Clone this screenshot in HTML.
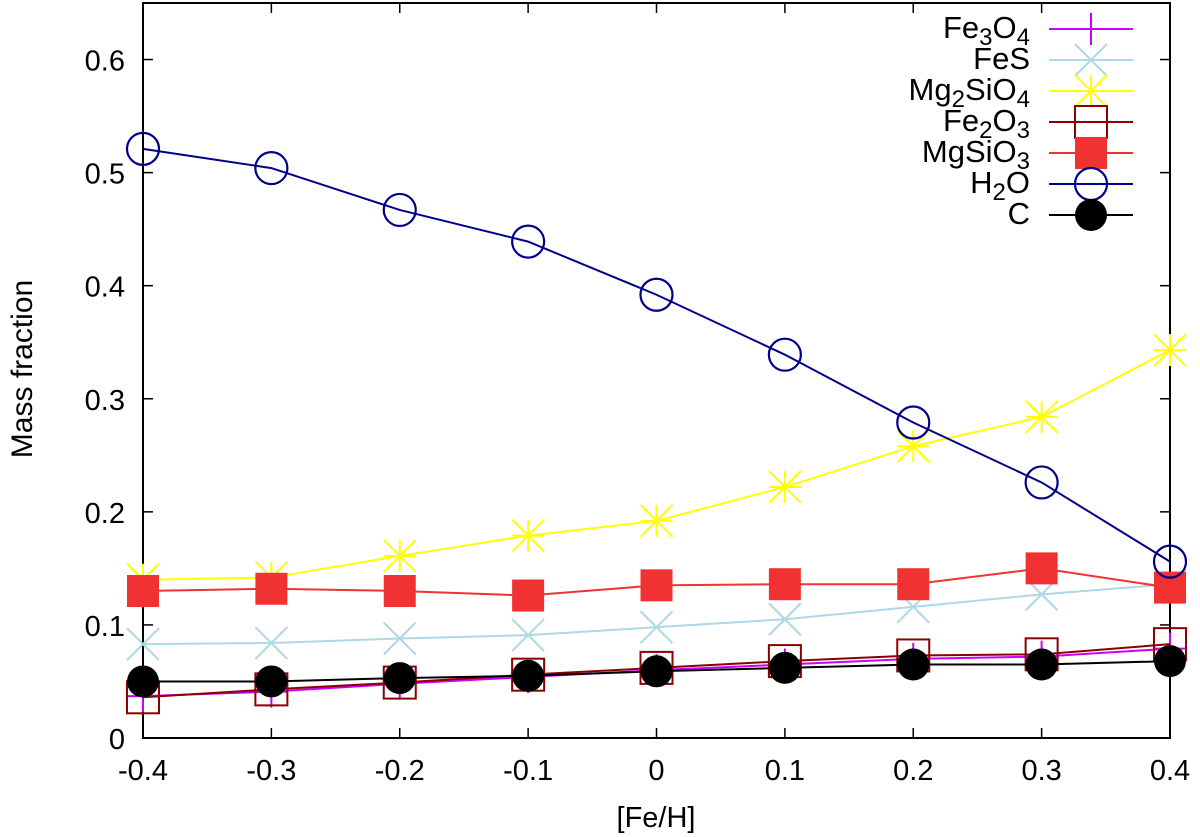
<!DOCTYPE html>
<html><head><meta charset="utf-8"><style>
html,body{margin:0;padding:0;background:#fff;}
svg{display:block;font-family:"Liberation Sans",Arial,sans-serif;}
</style></head><body>
<svg id="chart" width="1200" height="837">
<g id="grid"></g>
<g id="plot"></g>
<g id="legend"></g>
</svg>
<script>
const xValues = [-0.4,-0.3,-0.2,-0.1,0,0.1,0.2,0.3,0.4];
const xTicks = [-0.4,-0.3,-0.2,-0.1,0,0.1,0.2,0.3,0.4];
const xTickLabels = ["-0.4","-0.3","-0.2","-0.1","0","0.1","0.2","0.3","0.4"];
const yTicks = [0,0.1,0.2,0.3,0.4,0.5,0.6];
const yTickLabels = ["0","0.1","0.2","0.3","0.4","0.5","0.6"];
const fe3o4 = [0.037,0.041,0.048,0.054,0.060,0.065,0.070,0.072,0.079];
const fes = [0.083,0.084,0.088,0.091,0.098,0.105,0.116,0.127,0.136];
const mg2sio4 = [0.140,0.142,0.161,0.179,0.192,0.222,0.258,0.284,0.343];
const fe2o3 = [0.036,0.043,0.049,0.056,0.062,0.068,0.073,0.074,0.083];
const mgsio3 = [0.130,0.132,0.130,0.126,0.135,0.136,0.136,0.150,0.133];
const h2o = [0.521,0.504,0.467,0.439,0.392,0.339,0.279,0.226,0.156];
const carbon = [0.050,0.050,0.053,0.055,0.059,0.062,0.065,0.065,0.068];

const L=143,R=1170,T=3,B=738,XMIN=-0.4,XMAX=0.4,YMIN=0,YMAX=0.65;
const sx=v=>L+(v-XMIN)/(XMAX-XMIN)*(R-L);
const sy=v=>B-(v-YMIN)/(YMAX-YMIN)*(B-T);
const NS="http://www.w3.org/2000/svg";
function mk(tag,attrs,parent){const e=document.createElementNS(NS,tag);for(const k in attrs)e.setAttribute(k,attrs[k]);parent.appendChild(e);return e;}
const grid=document.getElementById('grid'),plot=document.getElementById('plot'),legend=document.getElementById('legend');

xTicks.forEach((t,i)=>{
  const x=sx(t);
  let a=mk('line',{x1:x,y1:B,x2:x,y2:B-10,stroke:'#000','stroke-width':1.5},grid);
  
  
  let b=mk('line',{x1:x,y1:T,x2:x,y2:T+10,stroke:'#000','stroke-width':1.5},grid);
  
  
  let tx=mk('text',{x:x,y:780,'text-anchor':'middle','font-size':29},grid);
  tx.textContent=xTickLabels[i];
  
  
});
yTicks.forEach((t,i)=>{
  const y=sy(t);
  let a=mk('line',{x1:L,y1:y,x2:L+10,y2:y,stroke:'#000','stroke-width':1.5},grid);
  
  
  let b=mk('line',{x1:R,y1:y,x2:R-10,y2:y,stroke:'#000','stroke-width':1.5},grid);
  
  
  let tx=mk('text',{x:125,y:y+11,'text-anchor':'end','font-size':29},grid);
  tx.textContent=yTickLabels[i];
  
  
});
let fr=mk('rect',{x:L,y:T,width:R-L,height:B-T,fill:'none',stroke:'#000','stroke-width':2},grid);


let xt=mk('text',{x:656,y:827,'text-anchor':'middle','font-size':29},grid);
xt.textContent='[Fe/H]';


let yt=mk('text',{x:0,y:0,'text-anchor':'middle','font-size':30,transform:'translate(32,369) rotate(-90)'},grid);
yt.textContent='Mass fraction';



function marker(type,x,y,color,g){
  const s=16;
  if(type==='plus'){mk('path',{d:`M${x-s} ${y}H${x+s}M${x} ${y-s}V${y+s}`,stroke:color,'stroke-width':2,fill:'none'},g);}
  else if(type==='x'){mk('path',{d:`M${x-s} ${y-s}L${x+s} ${y+s}M${x-s} ${y+s}L${x+s} ${y-s}`,stroke:color,'stroke-width':2,fill:'none'},g);}
  else if(type==='star'){mk('path',{d:`M${x-s} ${y}H${x+s}M${x} ${y-s}V${y+s}M${x-s} ${y-s}L${x+s} ${y+s}M${x-s} ${y+s}L${x+s} ${y-s}`,stroke:color,'stroke-width':2,fill:'none'},g);}
  else if(type==='sq'){mk('rect',{x:x-16,y:y-16,width:32,height:32,fill:'none',stroke:color,'stroke-width':2},g);}
  else if(type==='fsq'){mk('rect',{x:x-16,y:y-16,width:32,height:32,fill:color},g);}
  else if(type==='circ'){mk('circle',{cx:x,cy:y,r:16,fill:'none',stroke:color,'stroke-width':2.2},g);}
  else if(type==='fcirc'){mk('circle',{cx:x,cy:y,r:16,fill:color},g);}
}
const series=[
  {name:'fe3o4',label:['Fe','3','O','4'],data:fe3o4,color:'#cc00ff',m:'plus'},
  {name:'fes',label:['FeS'],data:fes,color:'#add8e6',m:'x'},
  {name:'mg2sio4',label:['Mg','2','SiO','4'],data:mg2sio4,color:'#ffff00',m:'star'},
  {name:'fe2o3',label:['Fe','2','O','3'],data:fe2o3,color:'#8b0000',m:'sq'},
  {name:'mgsio3',label:['MgSiO','3'],data:mgsio3,color:'#f03232',m:'fsq'},
  {name:'h2o',label:['H','2','O'],data:h2o,color:'#00008b',m:'circ'},
  {name:'c',label:['C'],data:carbon,color:'#000000',m:'fcirc'}
];
series.forEach((s,k)=>{
  const g=mk('g',{},plot);
  
  
  const pts=s.data.map((v,i)=>sx(xValues[i])+','+sy(v)).join(' ');
  mk('polyline',{points:pts,fill:'none',stroke:s.color,'stroke-width':2},g);
  s.data.forEach((v,i)=>marker(s.m,sx(xValues[i]),sy(v),s.color,g));
  const ly=29+k*31;
  const lg=mk('g',{},legend);
  
  
  mk('line',{x1:1049,y1:ly,x2:1133,y2:ly,stroke:s.color,'stroke-width':2},lg);
  marker(s.m,1091,ly,s.color,lg);
  const t=mk('text',{x:1030,y:ly+9,'text-anchor':'end','font-size':31},lg);
  s.label.forEach((p,j)=>{
    const ts=mk('tspan',{},t);
    ts.textContent=p;
    if(j%2===1){ts.setAttribute('baseline-shift','-30%');ts.setAttribute('font-size','24');}
  });
});
</script>
</body></html>
